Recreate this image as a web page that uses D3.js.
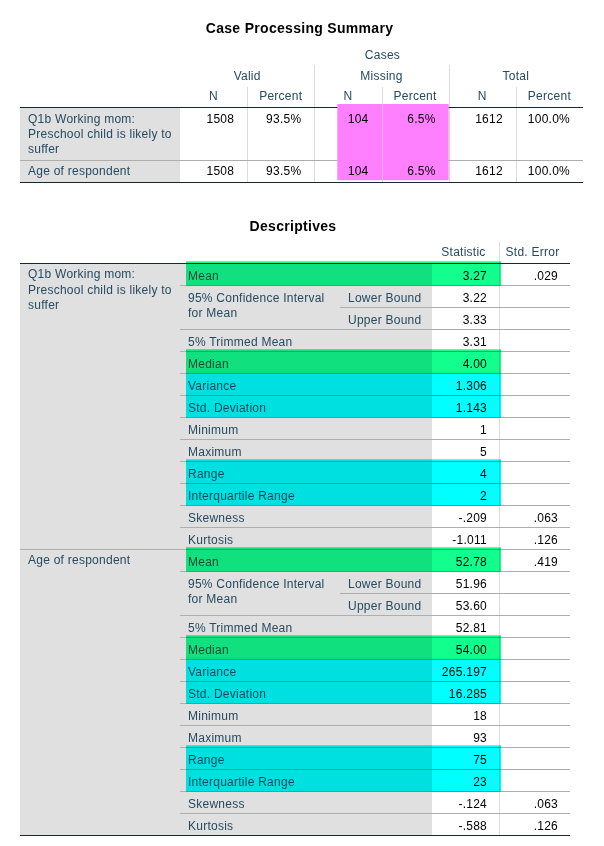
<!DOCTYPE html>
<html>
<head>
<meta charset="utf-8">
<script src="https://cdn.jsdelivr.net/npm/d3@7"></script>
<style>
  html, body { margin: 0; padding: 0; background: #fff; }
  svg text { font-family: "Liberation Sans", Arial, sans-serif; }
</style>
</head>
<body>
<svg id="chart" width="604" height="846"></svg>
<script>
// ---------------- DATA ----------------
const caseTitle = "Case Processing Summary";
const caseTopHeader = "Cases";
const caseGroups = ["Valid", "Missing", "Total"];
const caseSubHeaders = ["N", "Percent", "N", "Percent", "N", "Percent"];
const caseVarLabels = [
  ["Q1b Working mom:", "Preschool child is likely to", "suffer"],
  ["Age of respondent"]
];
const caseValues = [
  ["1508", "93.5%", "104", "6.5%", "1612", "100.0%"],
  ["1508", "93.5%", "104", "6.5%", "1612", "100.0%"]
];
const caseHighlightCols = [2, 3]; // Missing N, Missing Percent

const descTitle = "Descriptives";
const descColHeaders = ["Statistic", "Std. Error"];
const descVarLabels = [
  ["Q1b Working mom:", "Preschool child is likely to", "suffer"],
  ["Age of respondent"]
];
const descStatNames = [
  ["Mean"],
  ["95% Confidence Interval", "for Mean"],
  null,
  ["5% Trimmed Mean"],
  ["Median"],
  ["Variance"],
  ["Std. Deviation"],
  ["Minimum"],
  ["Maximum"],
  ["Range"],
  ["Interquartile Range"],
  ["Skewness"],
  ["Kurtosis"]
];
const descSubNames = ["", "Lower Bound", "Upper Bound", "", "", "", "", "", "", "", "", "", ""];
const descStatistic = [
  ["3.27", "3.22", "3.33", "3.31", "4.00", "1.306", "1.143", "1", "5", "4", "2", "-.209", "-1.011"],
  ["52.78", "51.96", "53.60", "52.81", "54.00", "265.197", "16.285", "18", "93", "75", "23", "-.124", "-.588"]
];
const descStdError = [
  [".029", "", "", "", "", "", "", "", "", "", "", ".063", ".126"],
  [".419", "", "", "", "", "", "", "", "", "", "", ".063", ".126"]
];
// highlighted rows: [variable, firstRow, lastRow, kind]
const descHighlights = [
  [0, 0, 0, "green"], [0, 4, 4, "green"], [0, 5, 6, "cyan"], [0, 9, 10, "cyan"],
  [1, 0, 0, "green"], [1, 4, 4, "green"], [1, 5, 6, "cyan"], [1, 9, 10, "cyan"]
];

// ---------------- STYLE ----------------
const labelColor = "#264a60";
const valueColor = "#010101";
const gridLight = "#dcdcdc";
const gridMid = "#aeaeae";
const gridDark = "#152935";
const greyBg = "#e0e0e0";
const hlColors = { green: "#12ff8e", cyan: "#00ffff", magenta: "#ff80ff" };
const fontSize = 12;
const lineH = 15.3;

const svg = d3.select("#chart");

function addText(g, x, y, str, anchor, color, opts = {}) {
  return g.append("text")
    .attr("x", x).attr("y", y)
    .attr("text-anchor", anchor)
    .attr("fill", color)
    .attr("font-size", opts.size || fontSize)
    .attr("font-weight", opts.weight || "normal")
    .attr("letter-spacing", opts.ls != null ? opts.ls : 0.25)
    .text(str);
}
function hline(g, x1, x2, y, color, w = 1) {
  g.append("line").attr("x1", x1).attr("x2", x2).attr("y1", y).attr("y2", y)
    .attr("stroke", color).attr("stroke-width", w).attr("shape-rendering", "crispEdges");
}
function vline(g, x, y1, y2, color) {
  g.append("line").attr("x1", x).attr("x2", x).attr("y1", y1).attr("y2", y2)
    .attr("stroke", color).attr("stroke-width", 1).attr("shape-rendering", "crispEdges");
}

// ================= CASE PROCESSING SUMMARY =================
(function () {
  const g = svg.append("g");
  const tableLeft = 20;
  const col = d3.scaleLinear().domain([0, caseSubHeaders.length]).range([180, 583]);
  const headerBottom = 107;
  const rowHeights = caseVarLabels.map(l => 7 + lineH * l.length);
  const rowTops = [];
  rowHeights.reduce((acc, h) => { rowTops.push(acc); return acc + h; }, headerBottom);
  const tableBottom = rowTops[rowTops.length - 1] + rowHeights[rowHeights.length - 1];

  addText(g, (tableLeft + col.range()[1]) / 2 - 2, 33, caseTitle, "middle", "#000", { size: 14, weight: "bold", ls: 0.3 });

  // label column background
  g.append("rect").attr("x", tableLeft).attr("y", headerBottom)
    .attr("width", col(0) - tableLeft).attr("height", tableBottom - headerBottom).attr("fill", greyBg);

  // headers
  addText(g, (col(0) + col(6)) / 2 + 1, 58.6, caseTopHeader, "middle", labelColor);
  caseGroups.forEach((grp, i) => {
    addText(g, (col(2 * i) + col(2 * i + 2)) / 2, 80, grp, "middle", labelColor);
  });
  caseSubHeaders.forEach((s, i) => {
    addText(g, (col(i) + col(i + 1)) / 2, 100.3, s, "middle", labelColor);
  });

  // vertical dividers
  for (let i = 1; i < caseSubHeaders.length; i++) {
    vline(g, Math.round(col(i)) + 0.5, i % 2 === 0 ? 65 : 87, tableBottom, gridLight);
  }

  // row separators
  rowTops.slice(1).forEach(t => hline(g, tableLeft, col(6), Math.round(t) + 0.5, gridMid));
  hline(g, tableLeft, col(6), headerBottom + 0.5, gridDark, 1.5);
  hline(g, tableLeft, col(6), tableBottom + 0.5, gridDark, 1.5);

  // magenta highlight (opaque)
  const hc0 = caseHighlightCols[0], hc1 = caseHighlightCols[caseHighlightCols.length - 1];
  const hx0 = col(hc0) + 23, hx1 = col(hc1 + 1);
  g.append("rect").attr("x", hx0).attr("y", headerBottom - 3)
    .attr("width", hx1 - hx0).attr("height", tableBottom - 2 - (headerBottom - 3))
    .attr("fill", hlColors.magenta);
  vline(g, Math.round(col(hc0 + 1)) + 0.5, headerBottom - 3, tableBottom - 2, "rgba(255,255,255,0.35)");

  // rows
  caseVarLabels.forEach((lines, r) => {
    const top = rowTops[r];
    lines.forEach((ln, k) => addText(g, 28, top + 15.5 + k * lineH, ln, "start", labelColor));
    caseValues[r].forEach((v, c) => addText(g, col(c + 1) - 13, top + 15.5, v, "end", valueColor));
  });
})();

// ================= DESCRIPTIVES =================
(function () {
  const g = svg.append("g");
  const xs = [20, 180, 340, 432, 499, 570];
  const nRows = descStatistic[0].length;
  const totalRows = nRows * descVarLabels.length;
  const y = d3.scaleLinear().domain([0, totalRows]).range([263.3, 835.3]);
  const rowH = y(1) - y(0);

  addText(g, (xs[0] + xs[5]) / 2 - 2, 231, descTitle, "middle", "#000", { size: 14, weight: "bold", ls: 0.3 });

  // grey background
  g.append("rect").attr("x", xs[0]).attr("y", y(0))
    .attr("width", xs[3] - xs[0]).attr("height", y(totalRows) - y(0)).attr("fill", greyBg);

  // headers
  descColHeaders.forEach((h, i) => addText(g, (xs[3 + i] + xs[4 + i]) / 2 + (i === 0 ? -2 : -2), 256, h, "middle", labelColor));

  // vertical divider
  vline(g, xs[4] + 0.5, 242, y(totalRows), gridLight);

  // row lines
  descVarLabels.forEach((lbl, v) => {
    const base = v * nRows;
    for (let r = 1; r < nRows; r++) {
      const x1 = descSubNames[r] && descSubNames[r - 1] ? xs[2] : xs[1];
      hline(g, x1, xs[5], Math.round(y(base + r)) + 0.5, gridMid);
    }
    if (v > 0) hline(g, xs[0], xs[5], Math.round(y(base)) + 0.5, gridMid);
  });
  hline(g, xs[0], xs[5], Math.round(y(0)) + 0.5, gridDark, 1.5);
  hline(g, xs[0], xs[5], Math.round(y(totalRows)) + 0.5, gridDark, 1.5);

  // texts
  descVarLabels.forEach((lbl, v) => {
    const base = v * nRows;
    lbl.forEach((ln, k) => addText(g, 28, y(base) + 15 + k * lineH, ln, "start", labelColor));
    descStatNames.forEach((nm, r) => {
      if (!nm) return;
      nm.forEach((ln, k) => addText(g, 188, y(base + r) + 16.5 + k * lineH, ln, "start", labelColor));
    });
    descSubNames.forEach((s, r) => {
      if (s) addText(g, 348, y(base + r) + 16.5, s, "start", labelColor);
    });
    descStatistic[v].forEach((s, r) => addText(g, xs[4] - 12, y(base + r) + 16.5, s, "end", valueColor));
    descStdError[v].forEach((s, r) => { if (s) addText(g, xs[5] - 12, y(base + r) + 16.5, s, "end", valueColor); });
  });

  // highlights (multiply blend, like a marker)
  descHighlights.forEach(([v, r0, r1, kind]) => {
    const top = y(v * nRows + r0) - 2;
    const bot = y(v * nRows + r1 + 1) + 0.5;
    g.append("rect")
      .attr("x", 186).attr("y", top)
      .attr("width", 501 - 186).attr("height", bot - top)
      .attr("fill", hlColors[kind])
      .style("mix-blend-mode", "multiply");
  });
})();
</script>
</body>
</html>
